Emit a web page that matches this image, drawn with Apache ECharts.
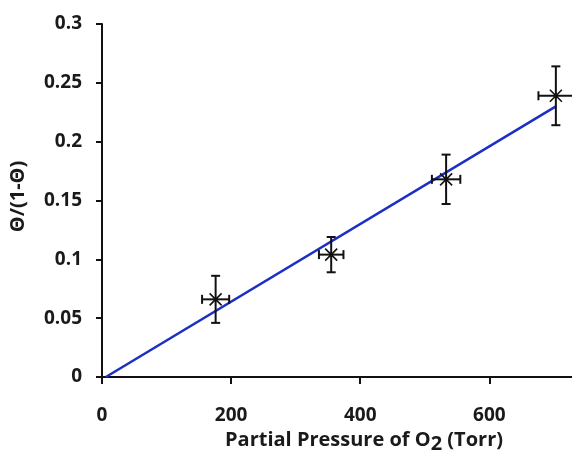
<!DOCTYPE html>
<html>
<head>
<meta charset="utf-8">
<script src="https://cdn.jsdelivr.net/npm/echarts@6/dist/echarts.min.js"></script>
<style>
    html, body { margin: 0; padding: 0; background: #fff; }
    #chart { width: 572px; height: 451px; }
</style>
</head>
<body>
<div id="chart"></div>
<script>
// measured points
const pressure = [176, 355, 533, 703];
const theta = [0.066, 0.104, 0.168, 0.239];
const yErr = [0.020, 0.015, 0.021, 0.025];
const xErr = [21, 19, 22, 27];

// linear fit line
const fitX = [6, 703];
const fitY = [0, 0.230];

const xTicks = [0, 200, 400, 600];

const font = '"Open Sans", sans-serif';

const chart = echarts.init(document.getElementById('chart'));

const points = pressure.map((p, i) => [p, theta[i], xErr[i], yErr[i]]);

function drawErr(params, api) {
    const x = api.value(0);
    const y = api.value(1);
    const dx = api.value(2);
    const dy = api.value(3);
    const c = api.coord([x, y]);
    const top = api.coord([x, y + dy]);
    const bot = api.coord([x, y - dy]);
    const lft = api.coord([x - dx, y]);
    const rgt = api.coord([x + dx, y]);
    const cap = 4.5;
    const arm = 6;
    const line = (x1, y1, x2, y2, w) => ({
        type: 'line',
        shape: { x1, y1, x2, y2 },
        style: { stroke: '#111', lineWidth: w || 2 }
    });
    return {
        type: 'group',
        children: [
            line(top[0], top[1], bot[0], bot[1]),
            line(top[0] - cap, top[1], top[0] + cap, top[1]),
            line(bot[0] - cap, bot[1], bot[0] + cap, bot[1]),
            line(lft[0], lft[1], rgt[0], rgt[1]),
            line(lft[0], lft[1] - cap, lft[0], lft[1] + cap),
            line(rgt[0], rgt[1] - cap, rgt[0], rgt[1] + cap),
            line(c[0] - arm, c[1] - arm, c[0] + arm, c[1] + arm, 1.6),
            line(c[0] - arm, c[1] + arm, c[0] + arm, c[1] - arm, 1.6),
            { type: 'circle', shape: { cx: c[0], cy: c[1], r: 2.2 }, style: { fill: '#111' } }
        ]
    };
}

chart.setOption({
    animation: false,
    grid: {
        left: 102,
        right: 0,
        top: 24,
        bottom: 74,
        containLabel: false,
        outerBoundsMode: 'none'
    },
    xAxis: {
        type: 'value',
        min: 0,
        max: 728,
        interval: 200,
        splitLine: { show: false },
        axisLine: { show: true, onZero: false, lineStyle: { color: '#111', width: 2 } },
        axisTick: { show: true, length: 7, lineStyle: { color: '#111', width: 2 } },
        axisLabel: {
            margin: 29,
            color: '#1a1a1a',
            fontFamily: font,
            fontWeight: 'bold',
            fontSize: 19,
            showMaxLabel: false,
            formatter: v => xTicks.indexOf(v) >= 0 ? String(v) : ''
        },
        name: 'Partial Pressure of O{sub|2} (Torr)',
        nameLocation: 'middle',
        nameGap: 47,
        nameTextStyle: {
            color: '#1a1a1a',
            fontFamily: font,
            fontWeight: 'bold',
            fontSize: 20,
            padding: [0, 0, 0, 54],
            rich: {
                sub: {
                    fontFamily: font,
                    fontWeight: 'bold',
                    fontSize: 20,
                    color: '#1a1a1a',
                    padding: [9, 0, 0, 0]
                }
            }
        }
    },
    yAxis: {
        type: 'value',
        min: 0,
        max: 0.3,
        interval: 0.05,
        splitLine: { show: false },
        axisLine: { show: true, onZero: false, lineStyle: { color: '#111', width: 2 } },
        axisTick: { show: true, length: 6, lineStyle: { color: '#111', width: 2 } },
        axisLabel: {
            margin: 20,
            color: '#1a1a1a',
            fontFamily: font,
            fontWeight: 'bold',
            fontSize: 19,
            formatter: v => String(+v.toFixed(2))
        },
        name: 'Θ/(1-Θ)',
        nameLocation: 'middle',
        nameGap: 74,
        nameRotate: 90,
        nameTextStyle: {
            color: '#1a1a1a',
            fontFamily: font,
            fontWeight: 'bold',
            fontSize: 20,
            padding: [0, 0, 0, 8]
        }
    },
    series: [
        {
            type: 'line',
            data: fitX.map((x, i) => [x, fitY[i]]),
            symbol: 'none',
            lineStyle: { color: '#1c2fc4', width: 2.5 },
            z: 2
        },
        {
            type: 'custom',
            renderItem: drawErr,
            data: points,
            encode: { x: 0, y: 1 },
            clip: false,
            z: 3
        }
    ]
});
</script>
</body>
</html>
